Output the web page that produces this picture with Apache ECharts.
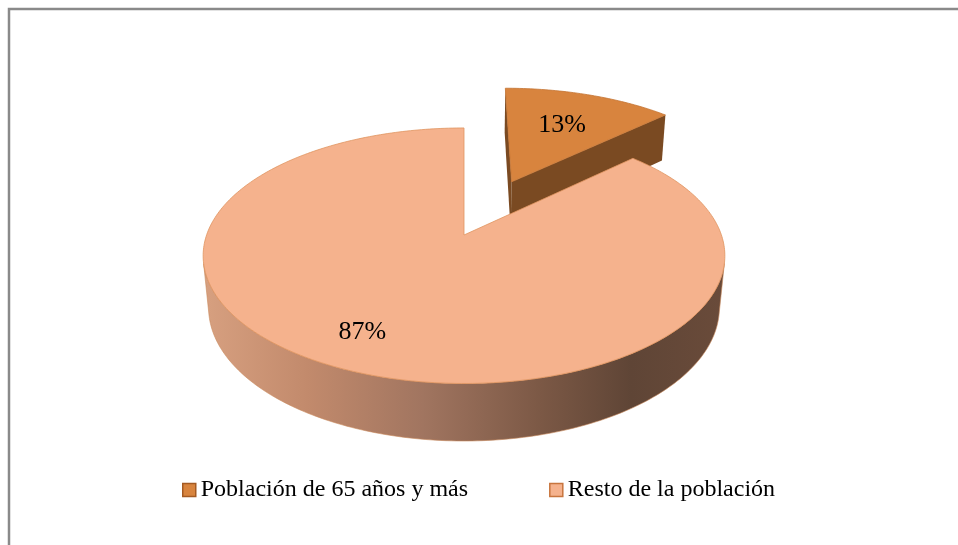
<!DOCTYPE html>
<html>
<head>
<meta charset="utf-8">
<script src="https://cdn.jsdelivr.net/npm/echarts@6/dist/echarts.min.js"></script>
<style>
html,body{margin:0;padding:0;background:#fff;}
#main{width:958px;height:545px;}
</style>
</head>
<body>
<div id="main"></div>
<script>
// datos
var categories = ['Población de 65 años y más', 'Resto de la población'];
var values = [13, 87];
var explodeBy = [0.5, 0];   // fracción del radio

// estilo
var topColors = ['#d8843e', '#f5b28d'];
var legendBorders = ['#a45a22', '#c8753e'];
var smallWall = '#7a4a22';
var bigWallStops = [
    {offset: 0, color: '#d7a080'},
    {offset: 0.2, color: '#c28a6c'},
    {offset: 0.42, color: '#a17560'},
    {offset: 0.65, color: '#7b5845'},
    {offset: 0.82, color: '#5f4536'},
    {offset: 1, color: '#6a4b3a'}
];
var labelR = [0.62, 0.76];
var labelNudge = [[0, 0], [-14, -1]];

// proyección 3D simple (perspectiva)
var cx = 464, cy = 235, F = 1390, D = 5.4, H = 0.233;
var tilt = 28.9 * Math.PI / 180;
var S = Math.sin(tilt), C = Math.cos(tilt);
var cam = [0, -D * C, D * S];

function proj(x, y, z) {
    var up = y * S + z * C;
    var w = D + y * C - z * S;
    return [cx + F * x / w, cy - F * up / w];
}

var total = values.reduce(function (a, b) { return a + b; }, 0);

function sliceAngles(i) {
    var before = 0;
    for (var k = 0; k < i; k++) before += values[k];
    var a0 = before / total * Math.PI * 2;
    var a1 = (before + values[i]) / total * Math.PI * 2;
    return [a0, a1];
}

function makeRender(i) {
    return function (params, api) {
        var ang = sliceAngles(i);
        var a0 = ang[0], a1 = ang[1];
        var mid = (a0 + a1) / 2;
        var ox = Math.sin(mid) * explodeBy[i];
        var oy = Math.cos(mid) * explodeBy[i];
        var steps = Math.max(8, Math.ceil((a1 - a0) / (Math.PI / 180)));
        var children = [];

        // pared exterior (solo la parte visible)
        var wallTop = [], wallBot = [];
        for (var s = 0; s <= steps; s++) {
            var t = a0 + (a1 - a0) * s / steps;
            var px = ox + Math.sin(t), py = oy + Math.cos(t);
            var vis = Math.sin(t) * (cam[0] - px) + Math.cos(t) * (cam[1] - py) > 0;
            if (vis) {
                wallTop.push(proj(px, py, 0));
                wallBot.push(proj(px, py, -H));
            }
        }
        var wallFill = i === 1
            ? new echarts.graphic.LinearGradient(203, 0, 725, 0, bigWallStops, true)
            : smallWall;
        if (wallTop.length > 1) {
            children.push({
                type: 'polygon',
                shape: {points: wallTop.concat(wallBot.reverse())},
                style: {fill: wallFill, stroke: '#c98a5c', lineWidth: 0.6}
            });
        }

        // caras radiales
        [[a0, -1], [a1, 1]].forEach(function (f) {
            var t = f[0];
            var nx = f[1] * Math.cos(t), ny = -f[1] * Math.sin(t);
            var vis = nx * (cam[0] - ox) + ny * (cam[1] - oy) > 0;
            if (!vis) return;
            var ex = ox + Math.sin(t), ey = oy + Math.cos(t);
            children.push({
                type: 'polygon',
                shape: {points: [proj(ox, oy, 0), proj(ex, ey, 0), proj(ex, ey, -H), proj(ox, oy, -H)]},
                style: {fill: i === 1 ? '#8a6450' : smallWall}
            });
        });

        // cara superior
        var topPts = [proj(ox, oy, 0)];
        for (var s2 = 0; s2 <= steps; s2++) {
            var t2 = a0 + (a1 - a0) * s2 / steps;
            topPts.push(proj(ox + Math.sin(t2), oy + Math.cos(t2), 0));
        }
        children.push({
            type: 'polygon',
            shape: {points: topPts},
            style: {fill: topColors[i], stroke: i === 1 ? '#e0945f' : '#c47432', lineWidth: 0.8}
        });

        // etiqueta
        var lp = proj(ox + Math.sin(mid) * labelR[i], oy + Math.cos(mid) * labelR[i], 0);
        children.push({
            type: 'text',
            style: {
                text: Math.round(api.value(0) / total * 100) + '%',
                x: lp[0] + labelNudge[i][0],
                y: lp[1] + labelNudge[i][1],
                fill: '#000',
                font: '26px "Liberation Serif"',
                align: 'center',
                verticalAlign: 'middle'
            }
        });

        return {type: 'group', children: children};
    };
}

var myChart = echarts.init(document.getElementById('main'), null, {renderer: 'canvas'});

var series = categories.map(function (name, i) {
    return {
        name: name,
        type: 'custom',
        coordinateSystem: 'none',
        z: 2 + i,
        silent: true,
        itemStyle: {color: topColors[i], borderColor: legendBorders[i], borderWidth: 1.5},
        renderItem: makeRender(i),
        data: [values[i]]
    };
});

myChart.setOption({
    backgroundColor: '#fff',
    animation: false,
    graphic: [{
        type: 'rect',
        shape: {x: 9, y: 9, width: 1000, height: 600},
        style: {fill: 'none', stroke: '#8a8a8a', lineWidth: 2.5}
    }],
    legend: {
        left: 182,
        top: 478,
        padding: 0,
        itemWidth: 13,
        itemHeight: 13,
        itemGap: 81,
        icon: 'rect',
        data: categories.map(function (name, i) {
            return {name: name, itemStyle: {color: topColors[i], borderColor: legendBorders[i], borderWidth: 1.5}};
        }),
        textStyle: {fontFamily: 'Liberation Serif', fontSize: 24, color: '#000'}
    },
    series: series
});
</script>
</body>
</html>
